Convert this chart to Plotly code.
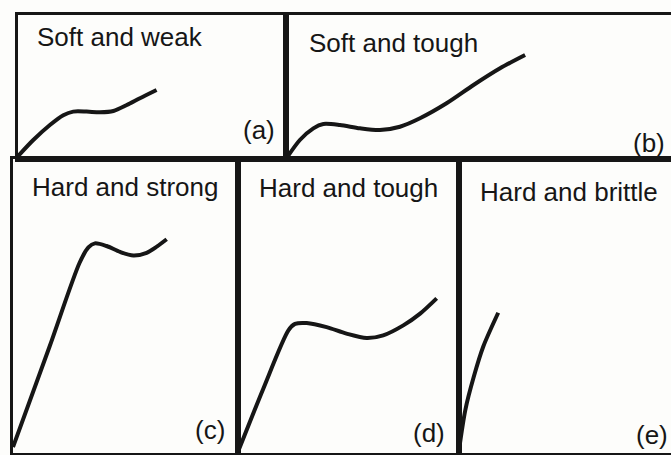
import plotly.graph_objects as go

# stress-strain sketches, each panel in its own 0-100 units
strain_a = [0, 5.7, 11.9, 16.9, 20.6, 25.6, 30.6, 35.6, 40.6, 45.5, 51.7]
stress_a = [2, 13.2, 23.6, 30.4, 32.9, 32.9, 32.4, 33.3, 37.5, 42.2, 47.9]

strain_b = [0, 3.6, 7.1, 9.7, 14.0, 19.2, 24.4, 29.6, 34.8, 41.7, 48.7, 55.6, 62.1]
stress_b = [0, 13.2, 21.3, 24.3, 23.6, 21.3, 20.1, 22.4, 28.3, 38.7, 51.4, 63.0, 72.2]

strain_c = [0, 16.3, 29.6, 33.5, 36.4, 41.6, 47.6, 53.5, 59.4, 63.9, 68.3]
stress_c = [2, 36.3, 64.7, 69.9, 71.3, 70.4, 68.4, 67.2, 68.1, 70.2, 72.7]

strain_d = [0, 11.4, 22.8, 25.8, 31.1, 40.1, 49.1, 58.2, 65.7, 74.8, 82.4, 89.9]
stress_d = [0.4, 21.8, 41.7, 43.9, 44.2, 42.8, 40.6, 39.1, 40.0, 43.4, 47.4, 52.6]

strain_e = [0, 3.0, 7.0, 11.5, 18.5]
stress_e = [1, 14.7, 26.0, 36.3, 47.7]

titles = ["Soft and weak", "Soft and tough", "Hard and strong", "Hard and tough", "Hard and brittle"]
tags = ["(a)", "(b)", "(c)", "(d)", "(e)"]

W, H = 671, 455


def px_x(px):
    return px / W


def px_y(py):
    return 1 - py / H


top = [px_y(159), px_y(15)]
bot = [px_y(453), px_y(159)]
panels = [
    ([px_x(18), px_x(286)], top, True),
    ([px_x(286), 1.0], top, False),
    ([px_x(13), px_x(238)], bot, True),
    ([px_x(238), px_x(459)], bot, True),
    ([px_x(459), 1.0], bot, False),
]
curves = [(strain_a, stress_a), (strain_b, stress_b), (strain_c, stress_c),
          (strain_d, stress_d), (strain_e, stress_e)]

fig = go.Figure()
ink = "#161616"
layout = {}
for i, ((xd, yd, closed), (sx, sy)) in enumerate(zip(panels, curves)):
    n = "" if i == 0 else str(i + 1)
    fig.add_trace(go.Scatter(x=sx, y=sy, mode="lines", xaxis="x" + n, yaxis="y" + n,
                             line=dict(color=ink, width=4, shape="spline", smoothing=0.8),
                             showlegend=False, hoverinfo="skip"))
    layout["xaxis" + n] = dict(domain=xd, range=[0, 100], anchor="y" + n, showline=True,
                               mirror=True, linecolor=ink, linewidth=2.5,
                               showgrid=False, zeroline=False, showticklabels=False, ticks="")
    layout["yaxis" + n] = dict(domain=yd, range=[0, 100], anchor="x" + n, showline=True,
                               mirror=closed, linecolor=ink, linewidth=2.5,
                               showgrid=False, zeroline=False, showticklabels=False, ticks="")
fig.update_layout(**layout)

font = dict(family="Liberation Sans, Arial, sans-serif", size=26, color=ink)
title_pos = [(35, 37), (307, 43), (30, 187), (257, 188), (478, 192)]
tag_pos = [(277, 130), (667, 143), (227, 430), (447, 433), (670, 435)]
for t, (px, py) in zip(titles, title_pos):
    fig.add_annotation(text=t, x=px_x(px), y=px_y(py), xref="paper", yref="paper",
                       xanchor="left", yanchor="middle", showarrow=False, font=font)
for t, (px, py) in zip(tags, tag_pos):
    fig.add_annotation(text=t, x=px_x(px), y=px_y(py), xref="paper", yref="paper",
                       xanchor="right", yanchor="middle", showarrow=False, font=font)

fig.update_layout(width=W, height=H, margin=dict(l=0, r=0, t=0, b=0),
                  paper_bgcolor="#fdfdfb", plot_bgcolor="rgba(0,0,0,0)")
# drop the page's default body margin so the figure fills the window exactly
fig.write_html("out.html", config={"displayModeBar": False},
               post_script="document.body.style.margin='0';document.body.style.overflow='hidden';")
